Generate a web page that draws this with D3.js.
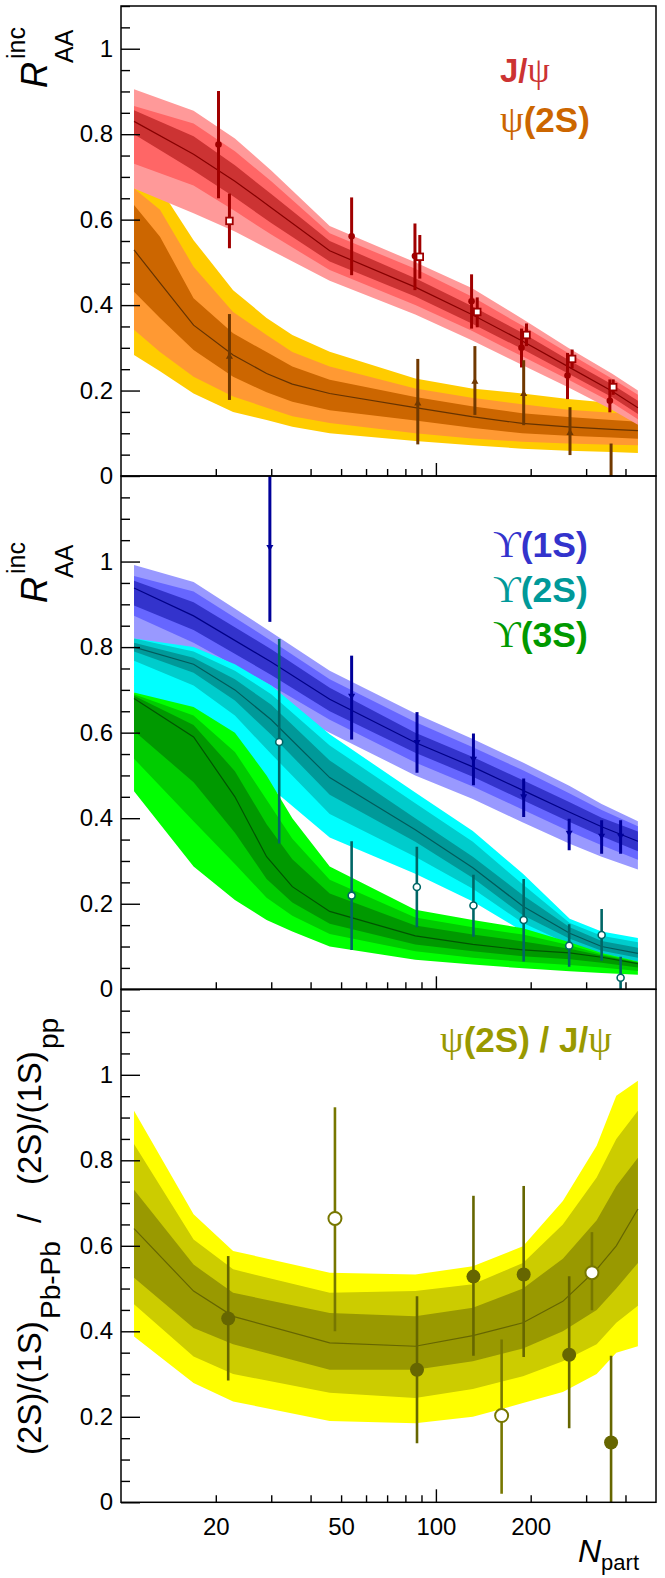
<!DOCTYPE html>
<html><head><meta charset="utf-8">
<script src="https://cdn.jsdelivr.net/npm/d3@7"></script>
<style>body{margin:0;background:#fff}</style>
</head><body>
<svg id="c" width="665" height="1578"></svg>
<script>
// ---------- X axis ----------
const xDomain = [10, 500];
const xMinorTicks = [20, 30, 40, 50, 60, 70, 80, 90, 200, 300, 400];
const xMajorTicks = [100];
const xLabelTicks = [20, 50, 100, 200];
const yMajor = [0, 0.2, 0.4, 0.6, 0.8, 1];

// ---------- Panel 1: J/psi model ----------
const jpsiN   = [11, 17, 23, 30, 46, 86, 130, 188, 263, 362, 438];
const jpsiHi3 = [0.905, 0.855, 0.79, 0.715, 0.585, 0.50, 0.44, 0.368, 0.30, 0.24, 0.20];
const jpsiHi2 = [0.866, 0.825, 0.76, 0.69, 0.568, 0.485, 0.42, 0.352, 0.288, 0.228, 0.19];
const jpsiHi1 = [0.856, 0.795, 0.727, 0.66, 0.55, 0.463, 0.398, 0.335, 0.272, 0.215, 0.176];
const jpsiMid = [0.83, 0.753, 0.69, 0.628, 0.527, 0.442, 0.378, 0.316, 0.256, 0.199, 0.16];
const jpsiLo1 = [0.80, 0.715, 0.652, 0.592, 0.502, 0.42, 0.357, 0.297, 0.24, 0.185, 0.145];
const jpsiLo2 = [0.731, 0.68, 0.62, 0.565, 0.482, 0.40, 0.34, 0.28, 0.226, 0.172, 0.133];
const jpsiLo3 = [0.673, 0.615, 0.572, 0.528, 0.457, 0.378, 0.318, 0.26, 0.208, 0.155, 0.12];

// ---------- Panel 1: psi(2S) model ----------
const psiN   = [11, 13.3, 17, 22.7, 29, 35, 46, 86, 130, 188, 263, 362, 438];
const psiHi3 = [0.69, 0.673, 0.552, 0.435, 0.37, 0.33, 0.291, 0.228, 0.205, 0.193, 0.18, 0.171, 0.165];
const psiHi2 = [0.673, 0.623, 0.49, 0.384, 0.33, 0.29, 0.256, 0.205, 0.183, 0.168, 0.155, 0.148, 0.145];
const psiHi1 = [0.634, 0.56, 0.416, 0.334, 0.29, 0.256, 0.225, 0.185, 0.163, 0.147, 0.138, 0.131, 0.127];
const psiMid = [0.529, 0.452, 0.353, 0.283, 0.24, 0.215, 0.193, 0.16, 0.139, 0.123, 0.115, 0.109, 0.106];
const psiLo1 = [0.431, 0.37, 0.295, 0.232, 0.196, 0.174, 0.154, 0.13, 0.113, 0.10, 0.094, 0.09, 0.087];
const psiLo2 = [0.342, 0.29, 0.232, 0.186, 0.16, 0.14, 0.124, 0.10, 0.088, 0.08, 0.076, 0.073, 0.072];
const psiLo3 = [0.283, 0.245, 0.193, 0.15, 0.131, 0.115, 0.10, 0.082, 0.072, 0.064, 0.059, 0.056, 0.054];

// ---------- Panel 1 data ----------
const jpsiCircN = [20.4, 54.0, 85.8, 129.8, 187, 261.8, 356.8];
const jpsiCircV = [0.776, 0.561, 0.515, 0.409, 0.30, 0.235, 0.176];
const jpsiCircHi = [0.901, 0.652, 0.591, 0.472, 0.345, 0.288, 0.226];
const jpsiCircLo = [0.650, 0.47, 0.435, 0.345, 0.254, 0.18, 0.149];
const jpsiSqN = [22.1, 88.9, 135.3, 194, 270.8, 365.6];
const jpsiSqV = [0.597, 0.513, 0.384, 0.33, 0.274, 0.208];
const jpsiSqHi = [0.661, 0.564, 0.418, 0.357, 0.296, 0.226];
const jpsiSqLo = [0.533, 0.462, 0.348, 0.304, 0.252, 0.19];
const psiDataN = [22.1, 87.6, 133, 190, 266.6, 360];
const psiDataV = [0.279, 0.17, 0.221, 0.192, 0.101, -0.003];
const psiDataHi = [0.379, 0.274, 0.304, 0.271, 0.161, 0.076];
const psiDataLo = [0.178, 0.074, 0.143, 0.119, 0.049, -0.05];

// ---------- Panel 2: Upsilon(1S) model ----------
const u1N   = [11, 17, 30, 46, 86, 131, 189, 266, 336, 438];
const u1Hi3 = [0.992, 0.952, 0.835, 0.745, 0.645, 0.585, 0.53, 0.475, 0.433, 0.393];
const u1Hi2 = [0.966, 0.93, 0.815, 0.725, 0.625, 0.566, 0.512, 0.458, 0.419, 0.381];
const u1Hi1 = [0.955, 0.905, 0.795, 0.705, 0.60, 0.543, 0.489, 0.437, 0.401, 0.369];
const u1Mid = [0.938, 0.873, 0.765, 0.678, 0.577, 0.52, 0.465, 0.414, 0.38, 0.346];
const u1Lo1 = [0.897, 0.84, 0.735, 0.65, 0.553, 0.497, 0.442, 0.391, 0.358, 0.323];
const u1Lo2 = [0.873, 0.81, 0.71, 0.63, 0.53, 0.474, 0.42, 0.369, 0.337, 0.303];
const u1Lo3 = [0.82, 0.76, 0.67, 0.60, 0.50, 0.445, 0.39, 0.34, 0.31, 0.28];

// ---------- Panel 2: Upsilon(2S) model ----------
const u2N   = [11, 17, 23, 30, 46, 86, 131, 189, 266, 336, 438];
const u2Hi3 = [0.82, 0.80, 0.76, 0.71, 0.596, 0.46, 0.37, 0.27, 0.165, 0.135, 0.12];
const u2Hi2 = [0.82, 0.79, 0.745, 0.69, 0.57, 0.435, 0.345, 0.245, 0.155, 0.125, 0.11];
const u2Hi1 = [0.81, 0.775, 0.725, 0.665, 0.535, 0.40, 0.31, 0.22, 0.145, 0.113, 0.097];
const u2Mid = [0.80, 0.76, 0.70, 0.63, 0.495, 0.373, 0.284, 0.194, 0.131, 0.10, 0.084];
const u2Lo1 = [0.79, 0.74, 0.675, 0.595, 0.455, 0.345, 0.26, 0.173, 0.118, 0.09, 0.074];
const u2Lo2 = [0.768, 0.71, 0.64, 0.55, 0.41, 0.31, 0.235, 0.155, 0.105, 0.08, 0.065];
const u2Lo3 = [0.694, 0.62, 0.55, 0.47, 0.355, 0.27, 0.205, 0.135, 0.09, 0.07, 0.055];

// ---------- Panel 2: Upsilon(3S) model ----------
const u3N   = [11, 17, 23, 29, 35, 46, 86, 131, 189, 266, 336, 438];
const u3Hi3 = [0.694, 0.66, 0.60, 0.50, 0.40, 0.287, 0.186, 0.162, 0.143, 0.11, 0.085, 0.065];
const u3Hi2 = [0.69, 0.64, 0.555, 0.443, 0.352, 0.256, 0.168, 0.145, 0.128, 0.103, 0.082, 0.064];
const u3Hi1 = [0.686, 0.618, 0.51, 0.386, 0.304, 0.224, 0.149, 0.128, 0.112, 0.095, 0.079, 0.062];
const u3Mid = [0.68, 0.59, 0.45, 0.31, 0.24, 0.182, 0.125, 0.105, 0.092, 0.085, 0.075, 0.06];
const u3Lo1 = [0.604, 0.484, 0.366, 0.258, 0.203, 0.153, 0.105, 0.089, 0.077, 0.07, 0.062, 0.051];
const u3Lo2 = [0.539, 0.393, 0.293, 0.214, 0.172, 0.129, 0.089, 0.074, 0.064, 0.057, 0.051, 0.043];
const u3Lo3 = [0.463, 0.287, 0.209, 0.162, 0.135, 0.10, 0.069, 0.058, 0.049, 0.042, 0.038, 0.034];

// ---------- Panel 2 data ----------
const u1DataN = [29.7, 54, 87.1, 131.6, 190, 265, 336, 386];
const u1DataV = [1.034, 0.686, 0.578, 0.539, 0.451, 0.366, 0.359, 0.359];
const u1DataHi = [1.3, 0.78, 0.648, 0.598, 0.493, 0.399, 0.395, 0.395];
const u1DataLo = [0.859, 0.584, 0.506, 0.477, 0.403, 0.325, 0.317, 0.317];
const u2DataN = [31.8, 54, 87, 131.6, 190, 265, 336, 386];
const u2DataV = [0.578, 0.219, 0.239, 0.196, 0.162, 0.102, 0.127, 0.027];
const u2DataHi = [0.819, 0.346, 0.333, 0.268, 0.258, 0.152, 0.188, 0.076];
const u2DataLo = [0.341, 0.092, 0.145, 0.123, 0.065, 0.053, 0.067, -0.05];

// ---------- Panel 3: ratio model ----------
const rN   = [11, 17, 22.7, 46, 86, 131, 189, 253, 324, 374, 438];
const rHi3 = [0.916, 0.674, 0.588, 0.537, 0.533, 0.552, 0.599, 0.705, 0.834, 0.951, 0.986];
const rHi2 = [0.838, 0.615, 0.545, 0.49, 0.494, 0.51, 0.56, 0.65, 0.76, 0.85, 0.916];
const rHi1 = [0.731, 0.556, 0.49, 0.443, 0.435, 0.455, 0.50, 0.57, 0.66, 0.74, 0.806];
const rMid = [0.64, 0.494, 0.435, 0.373, 0.365, 0.39, 0.42, 0.47, 0.545, 0.60, 0.686];
const rLo1 = [0.525, 0.408, 0.37, 0.31, 0.31, 0.33, 0.36, 0.40, 0.45, 0.50, 0.56];
const rLo2 = [0.463, 0.341, 0.30, 0.256, 0.244, 0.265, 0.295, 0.33, 0.37, 0.42, 0.46];
const rLo3 = [0.388, 0.279, 0.236, 0.19, 0.185, 0.20, 0.232, 0.258, 0.30, 0.35, 0.365];

// ---------- Panel 3 data ----------
const rFillN = [21.9, 87.1, 131.6, 190, 265, 360];
const rFillV = [0.43, 0.31, 0.528, 0.533, 0.345, 0.14];
const rFillHi = [0.576, 0.482, 0.717, 0.74, 0.529, 0.343];
const rFillLo = [0.285, 0.138, 0.343, 0.34, 0.173, -0.05];
const rOpenN = [47.8, 161.7, 313];
const rOpenV = [0.664, 0.203, 0.537];
const rOpenHi = [0.924, 0.381, 0.632];
const rOpenLo = [0.40, 0.02, 0.449];

// =====================================================
const svg = d3.select("#c");
const FONT = "'Liberation Sans', Arial, Helvetica, sans-serif";
const SERIF = "'Liberation Serif', 'DejaVu Serif', serif";
const L = 121, R = 656;
const x = d3.scaleLog().domain(xDomain).range([L, R]);

const panels = [
  {top: 6, bottom: 476, max: 1.1},
  {top: 476, bottom: 989.3, max: 1.2},
  {top: 989.3, bottom: 1502.3, max: 1.2}
];
panels.forEach((p, i) => {
  p.y = d3.scaleLinear().domain([0, p.max]).range([p.bottom, p.top]);
  p.g = svg.append("g");
  const cp = svg.append("clipPath").attr("id", "clip" + i);
  cp.append("rect").attr("x", L).attr("y", p.top).attr("width", R - L).attr("height", p.bottom - p.top);
  p.plot = p.g.append("g").attr("clip-path", `url(#clip${i})`);
});

function band(p, N, lo, hi, color) {
  const pts = N.map((n, i) => ({n, lo: lo[i], hi: hi[i]}));
  p.plot.append("path").datum(pts)
    .attr("d", d3.area().x(d => x(d.n)).y0(d => p.y(d.lo)).y1(d => p.y(d.hi)))
    .attr("fill", color).attr("stroke", "none");
}
function model(p, N, arrs, colors) {
  const [lo3, lo2, lo1, hi1, hi2, hi3] = arrs;
  band(p, N, lo3, hi3, colors[0]);
  band(p, N, lo2, hi2, colors[1]);
  band(p, N, lo1, hi1, colors[2]);
}
function midLine(p, N, mid, color) {
  p.plot.append("path").datum(N.map((n, i) => ({n, v: mid[i]})))
    .attr("d", d3.line().x(d => x(d.n)).y(d => p.y(d.v)))
    .attr("fill", "none").attr("stroke", color).attr("stroke-width", 1.2);
}
function errBars(p, N, hi, lo, color, w) {
  p.plot.selectAll(null).data(N.map((n, i) => ({n, hi: hi[i], lo: lo[i]}))).enter()
    .append("line").attr("x1", d => x(d.n)).attr("x2", d => x(d.n))
    .attr("y1", d => p.y(d.hi)).attr("y2", d => p.y(d.lo))
    .attr("stroke", color).attr("stroke-width", w);
}
function markers(p, N, V, draw) {
  const sel = p.plot.selectAll(null).data(N.map((n, i) => ({n, v: V[i]}))).enter();
  draw(sel);
}

// ----- Panel 1 -----
const p1 = panels[0];
model(p1, psiN, [psiLo3, psiLo2, psiLo1, psiHi1, psiHi2, psiHi3], ["#ffcc00", "#ff9933", "#cc6600"]);
model(p1, jpsiN, [jpsiLo3, jpsiLo2, jpsiLo1, jpsiHi1, jpsiHi2, jpsiHi3], ["#ff9999", "#ff6666", "#cc3333"]);
midLine(p1, psiN, psiMid, "#663300");
midLine(p1, jpsiN, jpsiMid, "#880000");
errBars(p1, jpsiCircN, jpsiCircHi, jpsiCircLo, "#a00000", 3);
errBars(p1, jpsiSqN, jpsiSqHi, jpsiSqLo, "#a00000", 3);
errBars(p1, psiDataN, psiDataHi, psiDataLo, "#703800", 3);
markers(p1, jpsiCircN, jpsiCircV, s => s.append("circle").attr("cx", d => x(d.n)).attr("cy", d => p1.y(d.v)).attr("r", 3.3).attr("fill", "#a00000"));
markers(p1, jpsiSqN, jpsiSqV, s => s.append("rect").attr("x", d => x(d.n) - 3.3).attr("y", d => p1.y(d.v) - 3.3).attr("width", 6.6).attr("height", 6.6).attr("fill", "#fff").attr("stroke", "#a00000").attr("stroke-width", 1.8));
markers(p1, psiDataN, psiDataV, s => s.append("path").attr("transform", d => `translate(${x(d.n)},${p1.y(d.v)})`).attr("d", d3.symbol(d3.symbolTriangle, 22)).attr("fill", "#703800"));

// ----- Panel 2 -----
const p2 = panels[1];
model(p2, u1N, [u1Lo3, u1Lo2, u1Lo1, u1Hi1, u1Hi2, u1Hi3], ["#9999ff", "#6666ff", "#3333cc"]);
model(p2, u2N, [u2Lo3, u2Lo2, u2Lo1, u2Hi1, u2Hi2, u2Hi3], ["#00ffff", "#00cccc", "#009999"]);
model(p2, u3N, [u3Lo3, u3Lo2, u3Lo1, u3Hi1, u3Hi2, u3Hi3], ["#00ff00", "#00cc00", "#009900"]);
midLine(p2, u1N, u1Mid, "#000088");
midLine(p2, u2N, u2Mid, "#005c5c");
midLine(p2, u3N, u3Mid, "#005500");
errBars(p2, u1DataN, u1DataHi, u1DataLo, "#000099", 3);
errBars(p2, u2DataN, u2DataHi, u2DataLo, "#006666", 2.6);
markers(p2, u1DataN, u1DataV, s => s.append("path").attr("transform", d => `translate(${x(d.n)},${p2.y(d.v)}) rotate(180)`).attr("d", d3.symbol(d3.symbolTriangle, 22)).attr("fill", "#000099"));
markers(p2, u2DataN, u2DataV, s => s.append("circle").attr("cx", d => x(d.n)).attr("cy", d => p2.y(d.v)).attr("r", 3.5).attr("fill", "#fff").attr("stroke", "#006666").attr("stroke-width", 1.6));

// ----- Panel 3 -----
const p3 = panels[2];
model(p3, rN, [rLo3, rLo2, rLo1, rHi1, rHi2, rHi3], ["#ffff00", "#cccc00", "#999900"]);
midLine(p3, rN, rMid, "#666600");
errBars(p3, rFillN, rFillHi, rFillLo, "#666600", 2.6);
errBars(p3, rOpenN, rOpenHi, rOpenLo, "#777700", 2.6);
markers(p3, rFillN, rFillV, s => s.append("circle").attr("cx", d => x(d.n)).attr("cy", d => p3.y(d.v)).attr("r", 7).attr("fill", "#666600"));
markers(p3, rOpenN, rOpenV, s => s.append("circle").attr("cx", d => x(d.n)).attr("cy", d => p3.y(d.v)).attr("r", 6.5).attr("fill", "#fff").attr("stroke", "#777700").attr("stroke-width", 2));

// ----- Axes and frames -----
panels.forEach((p, i) => {
  const minors = d3.range(0, p.max + 0.001, 0.05).filter(v => Math.abs(v * 5 - Math.round(v * 5)) > 1e-6);
  const yMin = p.g.append("g").attr("transform", `translate(${L},0)`)
    .call(d3.axisLeft(p.y).tickValues(minors).tickSize(-9).tickFormat(""));
  const yMaj = p.g.append("g").attr("transform", `translate(${L},0)`)
    .call(d3.axisLeft(p.y).tickValues(yMajor).tickSize(-19).tickPadding(8).tickFormat(d => d === 0 ? "0" : d === 1 ? "1" : d3.format(".1f")(d)));
  const xMin = p.g.append("g").attr("transform", `translate(0,${p.bottom})`)
    .call(d3.axisBottom(x).tickValues(xMinorTicks).tickSize(-7).tickFormat(""));
  const xMaj = p.g.append("g").attr("transform", `translate(0,${p.bottom})`)
    .call(d3.axisBottom(x).tickValues(xMajorTicks).tickSize(-13).tickFormat(""));
  [yMin, yMaj, xMin, xMaj].forEach(a => {
    a.select(".domain").remove();
    a.selectAll("line").attr("stroke", "#000").attr("stroke-width", 1.4);
    a.selectAll("text").attr("font-family", FONT).attr("font-size", 24).attr("fill", "#000");
  });
  p.g.append("rect").attr("x", L).attr("y", p.top).attr("width", R - L).attr("height", p.bottom - p.top)
    .attr("fill", "none").attr("stroke", "#000").attr("stroke-width", 1.5);
});
const xLab = p3.g.append("g").attr("transform", `translate(0,${p3.bottom})`)
  .call(d3.axisBottom(x).tickValues(xLabelTicks).tickSize(0).tickPadding(16).tickFormat(d3.format("d")));
xLab.select(".domain").remove();
xLab.selectAll("text").attr("font-family", FONT).attr("font-size", 24).attr("fill", "#000");

// N_part
const nt = svg.append("text").attr("x", 578).attr("y", 1562).attr("font-family", FONT).attr("fill", "#000");
nt.append("tspan").text("N").attr("font-size", 32).attr("font-style", "italic");
nt.append("tspan").text("part").attr("font-size", 22).attr("dy", 8);

// Y titles R_AA^inc
function raaTitle(bx, by) {
  const g = svg.append("g").attr("transform", `translate(${bx},${by}) rotate(-90)`).attr("font-family", FONT).attr("fill", "#000");
  g.append("text").attr("x", 0).attr("y", 0).text("R").attr("font-size", 36).attr("font-style", "italic");
  g.append("text").attr("x", 29).attr("y", -22).text("inc").attr("font-size", 25);
  g.append("text").attr("x", 25).attr("y", 26).text("AA").attr("font-size", 25);
}
raaTitle(47, 88);
raaTitle(47, 603);
{
  const g = svg.append("g").attr("transform", `translate(41,1455) rotate(-90)`)
    .attr("font-family", FONT).attr("fill", "#000");
  g.append("text").attr("x", 0).attr("y", 0).attr("font-size", 33).text("(2S)/(1S)");
  g.append("text").attr("x", 136).attr("y", 19).attr("font-size", 28).text("Pb-Pb");
  g.append("text").attr("x", 232).attr("y", 0).attr("font-size", 33).text("/");
  g.append("text").attr("x", 270).attr("y", 0).attr("font-size", 33).text("(2S)/(1S)");
  g.append("text").attr("x", 406).attr("y", 17).attr("font-size", 28).text("pp");
}

// Legends
function legend(xp, yp, parts, color, size) {
  const t = svg.append("text").attr("x", xp).attr("y", yp).attr("fill", color).attr("font-size", size);
  parts.forEach(([s, greek]) => {
    t.append("tspan").text(s).attr("font-family", greek ? SERIF : FONT).attr("font-weight", greek ? "normal" : "bold")
      .attr("font-size", greek ? size * 1.08 : size);
  });
}
legend(500, 82, [["J/", false], ["ψ", true]], "#cc3333", 33);
legend(500, 132, [["ψ", true], ["(2S)", false]], "#cc6600", 35);
legend(493, 557, [["ϒ", true], ["(1S)", false]], "#3333cc", 35.5);
legend(493, 602, [["ϒ", true], ["(2S)", false]], "#009999", 35.5);
legend(493, 647, [["ϒ", true], ["(3S)", false]], "#009900", 35.5);
legend(440, 1052, [["ψ", true], ["(2S) / J/", false], ["ψ", true]], "#999900", 35);
</script>
</body></html>
